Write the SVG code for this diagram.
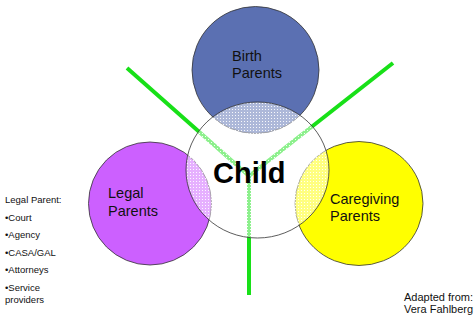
<svg xmlns="http://www.w3.org/2000/svg" width="475" height="320" viewBox="0 0 475 320">
<defs>
<pattern id="dots" width="3" height="3" patternUnits="userSpaceOnUse">
<rect width="3" height="3" fill="#ffffff" fill-opacity="0.5"/>
<rect x="1" y="1" width="1" height="1" fill="#ffffff" fill-opacity="0.9"/>
</pattern>
<style>
.c{stroke:#333;stroke-width:0.8}
.g{stroke:#18e018;stroke-width:4;stroke-linecap:butt;fill:none}
.t{font-family:"Liberation Sans",Arial,sans-serif;fill:#111}
.lab{font-size:14.5px}
.side{font-size:9.5px}
</style>
</defs>
<rect width="475" height="320" fill="#ffffff"/>
<g id="birth"><circle class="c" cx="255.5" cy="70" r="63.5" fill="#5b70b2"/></g>
<g id="legal"><circle class="c" cx="150" cy="203.5" r="61.5" fill="#cc60ff"/></g>
<g id="caregiving"><ellipse class="c" cx="359" cy="203.5" rx="64" ry="62" fill="#ffff00"/></g>
<g id="connectors">
<polyline class="g" points="127,68 249,176 393,63"/>
<line class="g" x1="249" y1="176" x2="249" y2="295"/>
</g>
<g id="child"><ellipse class="c" cx="257.5" cy="170" rx="71.5" ry="68" fill="url(#dots)"/></g>
<g class="t">
<text class="lab" x="232" y="61">Birth</text>
<text class="lab" x="232" y="78">Parents</text>
<text x="213" y="183" font-size="29" font-weight="bold" fill="#000">Child</text>
<text class="lab" x="108" y="198">Legal</text>
<text class="lab" x="108" y="216">Parents</text>
<text class="lab" x="330" y="204">Caregiving</text>
<text class="lab" x="330" y="221">Parents</text>
<text class="side" x="5" y="203">Legal Parent:</text>
<text class="side" x="5" y="221">•Court</text>
<text class="side" x="5" y="238">•Agency</text>
<text class="side" x="5" y="256">•CASA/GAL</text>
<text class="side" x="5" y="273">•Attorneys</text>
<text class="side" x="5" y="291">•Service</text>
<text class="side" x="5" y="303">providers</text>
<text x="404" y="301" font-size="11">Adapted from:</text>
<text x="404" y="313" font-size="11">Vera Fahlberg</text>
</g>
</svg>
